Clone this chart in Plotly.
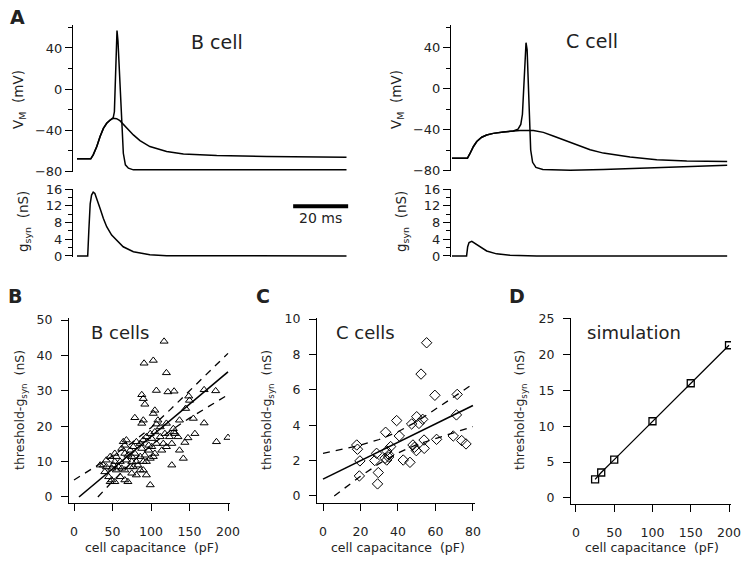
import plotly.graph_objects as go

# ---------------- DATA ----------------
# Panel A, B cell (time in ms, Vm in mV, g in nS)
bcell_sub_t = [0, 5, 5.9, 7.2, 8.4, 9.6, 10.8, 12, 13.2, 14.4, 15.6, 16.8, 18.7, 20.5, 22.9, 26.5, 32.6, 38.7, 50.8, 69, 98]
bcell_sub_v = [-67.7, -67.7, -63.9, -55.8, -46.1, -38.1, -33.2, -30, -28.4, -28.7, -30.6, -33.9, -39.7, -44.5, -50, -55.8, -60.6, -62.9, -64.5, -65.5, -66.1]
bcell_spk_t = [0, 5, 5.9, 7.2, 8.4, 9.6, 10.8, 12, 13.2, 13.6, 13.9, 14.3, 14.55, 14.9, 15.4, 15.9, 16.4, 16.85, 17.6, 18.7, 20.5, 32.6, 60, 98]
bcell_spk_v = [-67.7, -67.7, -63.9, -55.8, -46.1, -38.1, -33.2, -30, -27.5, -22, 5.5, 50.6, 57, 47, 21.6, -10.6, -39.7, -62.3, -73.5, -76.8, -78.4, -78.4, -78.6, -78.4]
bcell_g_t = [0, 3.9, 4.3, 4.8, 5.3, 5.9, 6.5, 7.2, 8.4, 9.6, 10.8, 12.6, 14.4, 16.8, 20.5, 26.5, 32.6, 98]
bcell_g = [0, 0, 6.0, 12.5, 14.6, 15.3, 15.0, 13.8, 11.4, 9.0, 7.0, 5.0, 3.7, 2.2, 1.0, 0.3, 0.05, 0]

# Panel A, C cell
ccell_sub_t = [0, 5.6, 6.5, 7.8, 9, 10.8, 12.6, 15, 18.7, 22.3, 24.7, 29.6, 33.2, 36.8, 40.5, 45.3, 50.2, 55, 64.7, 74.4, 85.3, 100]
ccell_sub_v = [-68.1, -68.1, -63.6, -56.5, -51.7, -47.5, -45.3, -43.7, -42.4, -41.4, -40.8, -40.8, -42.7, -46.2, -50.1, -55.2, -59.7, -63, -66.8, -69.4, -70.7, -71.3]
ccell_spk_t = [0, 5.6, 6.5, 7.8, 9, 10.8, 12.6, 15, 18.7, 22.3, 24.0, 25.0, 25.6, 26.1, 26.5, 26.9, 27.3, 27.7, 28.1, 28.6, 29.3, 30.5, 33, 43, 55, 67, 79, 91, 100]
ccell_spk_v = [-68.1, -68.1, -63.6, -56.5, -51.7, -47.5, -45.3, -43.7, -42.4, -41.4, -39.5, -35, -25, 0, 30, 45, 38, 10, -30, -60, -72, -77, -79, -79.7, -79, -77.8, -76.5, -75.5, -74.9]
ccell_g_t = [0, 5.3, 5.7, 6.2, 7.2, 8.4, 10.2, 12.6, 16.2, 21.1, 30.8, 100]
ccell_g = [0, 0, 2.2, 3.2, 3.5, 3.0, 2.1, 1.2, 0.5, 0.15, 0, 0]

# Panel B: B cells
b_cap = [117, 91, 103, 120, 107, 122, 130, 88, 90, 92, 105, 149, 150, 145, 169, 184, 79, 90, 88, 107,
         137, 155, 169, 157, 148, 144, 137, 142, 127, 185, 200, 129, 130, 124, 118, 112, 116, 107, 114, 127,
         101, 105, 103, 97, 86, 81, 77, 73, 66, 70, 75, 79, 86, 90, 81, 75, 68, 62, 66, 64,
         68, 53, 55, 53, 51, 58, 62, 55, 49, 42, 38, 40, 45, 49, 53, 47, 66, 70, 75, 81,
         86, 94, 99, 90, 94, 99, 66, 73, 60, 99, 94, 90, 101, 105, 112, 120, 109, 131, 120, 135,
         103, 60, 77, 83, 47, 42, 34, 92, 97, 88]
b_thr = [44.0, 37.8, 38.6, 35.1, 30.1, 29.7, 29.9, 28.9, 27.8, 26.2, 24.5, 28.5, 27.3, 25.0, 30.3, 30.0, 22.4, 21.7, 20.8, 20.6,
         21.7, 22.2, 20.9, 17.9, 16.7, 15.4, 13.2, 10.9, 9.0, 15.6, 16.8, 19.3, 18.4, 17.0, 17.9, 17.0, 15.1, 15.1, 13.2, 15.1,
         14.2, 12.3, 11.4, 13.2, 15.1, 15.6, 14.2, 13.2, 12.3, 11.8, 11.4, 12.3, 11.4, 10.0, 10.0, 10.0, 10.4, 13.7, 14.6, 15.6,
         16.1, 12.3, 11.4, 10.0, 9.0, 8.5, 8.1, 7.6, 8.1, 8.5, 9.0, 7.1, 5.7, 4.8, 4.3, 4.3, 4.8, 4.3, 6.7, 6.2,
         7.6, 6.2, 3.4, 7.6, 10.0, 10.9, 7.6, 8.5, 5.7, 17.9, 17.0, 16.1, 16.5, 18.4, 19.8, 20.8, 21.7, 17.9, 14.2, 17.0,
         23.6, 10.0, 8.5, 9.0, 11.4, 10.4, 9.0, 11.8, 14.6, 13.7]
b_fit_x = [6.5, 200]
b_fit_y = [0, 35.4]
b_up_x = [0, 25, 50, 75, 100, 125, 150, 175, 200]
b_up_y = [4.8, 8.1, 11.6, 15.3, 19.6, 24.7, 30.0, 35.3, 40.6]
b_lo_x = [31, 50, 75, 100, 125, 150, 175, 200]
b_lo_y = [0, 4.4, 9.8, 14.6, 18.7, 22.3, 25.6, 28.9]

# Panel C: C cells
c_cap = [55.3, 52.3, 59.7, 71.6, 71.2, 50, 51.2, 47.3, 39.3, 33.4, 40.7, 53.2, 53.9, 60.6, 69.5, 74, 76.3, 54, 48.8, 49.8,
         48, 34, 36.1, 35.2, 33.1, 28.6, 27.6, 18, 18.4, 19.7, 19.4, 29.5, 29.1, 42.8, 46.4, 34, 35]
c_thr = [8.66, 6.89, 5.69, 5.74, 4.58, 4.48, 4.1, 4.07, 4.26, 3.6, 3.39, 4.33, 3.16, 3.2, 3.39, 3.13, 2.94, 2.69, 2.75, 2.56,
         2.88, 2.54, 2.79, 2.32, 2.13, 2.41, 2.0, 2.88, 2.64, 1.98, 1.13, 1.32, 0.68, 2.03, 1.9, 2.03, 2.2]
c_fit_x = [0, 80]
c_fit_y = [0.95, 5.11]
c_up_x = [0, 10, 20, 30, 40, 50, 60, 70, 80]
c_up_y = [2.41, 2.62, 2.87, 3.19, 3.63, 4.2, 4.89, 5.61, 6.33]
c_lo_x = [6, 10, 20, 30, 40, 50, 60, 70, 80]
c_lo_y = [0, 0.32, 1.11, 1.83, 2.43, 2.9, 3.25, 3.57, 3.92]

# Panel D: simulation
d_cap = [25, 33, 50, 100, 150, 200]
d_thr = [2.6, 3.55, 5.35, 10.7, 16.0, 21.3]

# ---------------- LAYOUT HELPERS ----------------
W, H = 753, 565
FONT = "DejaVu Sans"
TXT = "#222222"


def xd(l, r):
    return [l / W, r / W]


def yd(t, b):
    return [1 - b / H, 1 - t / H]


def px(x):
    return x / W


def py(y):
    return 1 - y / H


fig = go.Figure()


def add_line(x, y, ax, dash=None, width=1.5):
    fig.add_trace(go.Scatter(x=x, y=y, mode="lines", xaxis=ax[0], yaxis=ax[1],
                             line=dict(color="black", width=width, dash=dash),
                             hoverinfo="skip", showlegend=False))


# Panel A
add_line(bcell_sub_t, bcell_sub_v, ("x", "y"))
add_line(bcell_spk_t, bcell_spk_v, ("x", "y"))
add_line(bcell_g_t, bcell_g, ("x2", "y2"))
add_line(ccell_sub_t, ccell_sub_v, ("x3", "y3"))
add_line(ccell_spk_t, ccell_spk_v, ("x3", "y3"))
add_line(ccell_g_t, ccell_g, ("x4", "y4"))

# Panel B
fig.add_trace(go.Scatter(x=b_cap, y=b_thr, mode="markers", xaxis="x5", yaxis="y5",
                         marker=dict(symbol="triangle-up-open", size=7, color="black", line=dict(width=1)),
                         showlegend=False))
add_line(b_fit_x, b_fit_y, ("x5", "y5"), width=1.6)
add_line(b_up_x, b_up_y, ("x5", "y5"), dash="7px,6px", width=1.3)
add_line(b_lo_x, b_lo_y, ("x5", "y5"), dash="7px,6px", width=1.3)

# Panel C
fig.add_trace(go.Scatter(x=c_cap, y=c_thr, mode="markers", xaxis="x6", yaxis="y6",
                         marker=dict(symbol="diamond-open", size=8, color="black", line=dict(width=1)),
                         showlegend=False))
add_line(c_fit_x, c_fit_y, ("x6", "y6"), width=1.6)
add_line(c_up_x, c_up_y, ("x6", "y6"), dash="7px,6px", width=1.3)
add_line(c_lo_x, c_lo_y, ("x6", "y6"), dash="7px,6px", width=1.3)

# Panel D
fig.add_trace(go.Scatter(x=d_cap, y=d_thr, mode="lines+markers", xaxis="x7", yaxis="y7",
                         line=dict(color="black", width=1.3),
                         marker=dict(symbol="square-open", size=7, color="black", line=dict(width=1.3)),
                         showlegend=False))

# ---------------- AXES ----------------
tickfont_a = dict(family=FONT, size=13, color=TXT)
tickfont_b = dict(family=FONT, size=12.5, color=TXT)


def yaxis_a(domain, rng, dtick, mdtick, anchor):
    return dict(domain=domain, range=rng, anchor=anchor, automargin=False,
                showline=True, linecolor="black", linewidth=1,
                ticks="outside", ticklen=7, tickwidth=1, tickcolor="black", tickmode="linear", tick0=0,
                dtick=dtick, showgrid=False, zeroline=False, tickfont=tickfont_a,
                minor=dict(dtick=mdtick, tick0=0, ticks="outside", ticklen=4, tickwidth=1,
                           tickcolor="black", showgrid=False))


def xaxis_hidden(domain, rng, anchor):
    return dict(domain=domain, range=rng, anchor=anchor, automargin=False, visible=False,
                showgrid=False, zeroline=False)


def xaxis_b(domain, rng, tickvals, anchor):
    return dict(domain=domain, range=rng, anchor=anchor, automargin=False,
                showline=True, linecolor="black", linewidth=1,
                ticks="outside", ticklen=7, tickwidth=1, tickcolor="black", tickvals=tickvals,
                showgrid=False, zeroline=False, tickfont=tickfont_b, ticklabelstandoff=10)


def yaxis_b(domain, rng, tickvals, anchor):
    return dict(domain=domain, range=rng, anchor=anchor, automargin=False,
                showline=True, linecolor="black", linewidth=1,
                ticks="outside", ticklen=7, tickwidth=1, tickcolor="black", tickvals=tickvals,
                showgrid=False, zeroline=False, tickfont=tickfont_b, ticklabelstandoff=6)


fig.update_layout(
    template="none",
    width=W, height=H, margin=dict(l=0, r=0, t=0, b=0, pad=0, autoexpand=False),
    paper_bgcolor="white", plot_bgcolor="white", showlegend=False,
    font=dict(family=FONT, color=TXT),
    xaxis=xaxis_hidden(xd(73, 352), [-1.45, 100], "y"),
    yaxis=yaxis_a(yd(25, 172), [-80.5, 62.3], 40, 20, "x"),
    xaxis2=xaxis_hidden(xd(73, 352), [-1.45, 100], "y2"),
    yaxis2=yaxis_a(yd(189, 257), [-0.25, 16.05], 4, 2, "x2"),
    xaxis3=xaxis_hidden(xd(451, 728), [-0.36, 100.3], "y3"),
    yaxis3=yaxis_a(yd(25, 171), [-80.5, 62.3], 40, 20, "x3"),
    xaxis4=xaxis_hidden(xd(451, 728), [-0.36, 100.3], "y4"),
    yaxis4=yaxis_a(yd(189, 257), [-0.25, 16.05], 4, 2, "x4"),
    xaxis5=xaxis_b(xd(69, 230), [-6.5, 202.6], [0, 50, 100, 150, 200], "y5"),
    yaxis5=yaxis_b(yd(318, 503), [-1.7, 50.6], [0, 10, 20, 30, 40, 50], "x5"),
    xaxis6=xaxis_b(xd(317, 475), [-3.2, 81.1], [0, 20, 40, 60, 80], "y6"),
    yaxis6=yaxis_b(yd(318, 503), [-0.4, 10.06], [0, 2, 4, 6, 8, 10], "x6"),
    xaxis7=xaxis_b(xd(571, 731), [-6.5, 202.6], [0, 50, 100, 150, 200], "y7"),
    yaxis7=yaxis_b(yd(318, 504), [-0.84, 25.1], [0, 5, 10, 15, 20, 25], "x7"),
)

# scale bar (20 ms) in the B-cell conductance axes
fig.add_shape(type="line", xref="x2", yref="y2", x0=78.6, x1=98.6, y0=11.9, y1=11.9,
              line=dict(color="black", width=4))

NB = "\u00a0"


def ann(text, x, y, size, angle=0, bold=False):
    fig.add_annotation(text=("<b>%s</b>" % text) if bold else text, x=px(x), y=py(y),
                       xref="paper", yref="paper", xanchor="center", yanchor="middle",
                       showarrow=False, textangle=angle,
                       font=dict(family=FONT, size=size, color=TXT))


# panel letters
ann("A", 17, 17, 19, bold=True)
ann("B", 15, 296, 19, bold=True)
ann("C", 263, 296, 19, bold=True)
ann("D", 517, 296, 19, bold=True)

# panel titles
ann("B cell", 217, 42, 19)
ann("C cell", 592, 41, 19)
ann("B cells", 120, 332, 18)
ann("C cells", 365, 332, 18)
ann("simulation", 634, 332, 18)
ann("20 ms", 320, 218, 14)

# axis titles
vm_title = "V<sub>M</sub>" + NB + NB + "(mV)"
g_title = "g<sub>syn</sub>" + NB + NB + "(nS)"
thr_title = "threshold-g<sub>syn</sub>" + NB + NB + "(nS)"
cap_title = "cell capacitance" + NB + NB + "(pF)"
ann(vm_title, 19, 100, 13.5, angle=-90)
ann(g_title, 24, 222, 13.5, angle=-90)
ann(vm_title, 397, 100, 13.5, angle=-90)
ann(g_title, 402, 222, 13.5, angle=-90)
ann(thr_title, 20, 410, 12.5, angle=-90)
ann(thr_title, 267, 410, 12.5, angle=-90)
ann(thr_title, 520, 410, 12.5, angle=-90)
ann(cap_title, 152, 547, 12.5)
ann(cap_title, 398, 547, 12.5)
ann(cap_title, 652, 547, 12.5)

fig.write_html("out.html", config={"displayModeBar": False},
               post_script="document.body.style.margin='0px';document.body.style.padding='0px';")
